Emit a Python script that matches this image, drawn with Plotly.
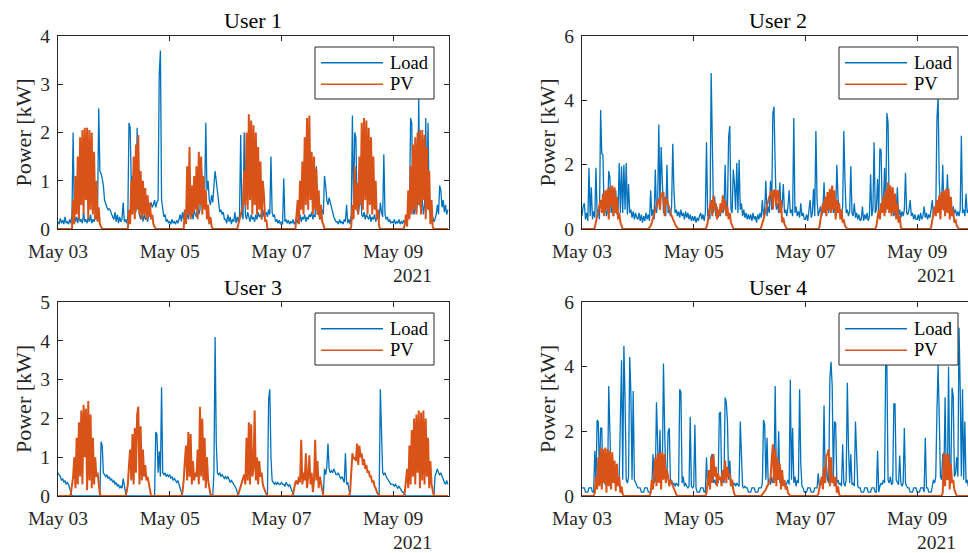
import plotly.graph_objects as go
import pandas as pd

# ---------------- data (30-minute samples, 2021-05-03 00:00 .. 2021-05-09 23:30) ----------------
start_time = "2021-05-03 00:00"
samples_per_day = 48
n_days = 7

load_u1_days = [
    [0.15,0.1,0.22,0.12,0.18,0.1,0.25,0.12,0.15,0.1,0.2,0.12,0.3,2.0,0.3,0.15,0.25,0.12,0.3,0.15,0.2,0.12,0.35,0.15,0.2,0.12,0.25,0.15,0.3,0.12,0.2,0.15,0.28,0.2,0.35,2.5,1.2,1.15,1.05,0.9,0.6,0.5,0.45,0.4,0.42,0.38,0.3,0.25],
    [0.2,0.35,0.15,0.3,0.12,0.25,0.15,0.2,0.55,0.15,0.2,0.12,0.25,2.2,2.1,0.9,1.1,0.5,0.9,0.35,2.1,0.6,0.3,0.2,0.35,0.15,0.3,0.2,0.25,0.15,0.3,0.4,0.55,0.45,0.5,0.6,0.45,0.55,0.6,3.2,3.7,0.6,0.4,0.25,0.3,0.15,0.2,0.12],
    [0.15,0.1,0.2,0.12,0.15,0.1,0.18,0.12,0.2,0.3,0.15,0.35,0.2,0.4,0.25,0.3,0.2,0.45,0.25,0.35,0.2,0.4,0.3,0.25,0.5,0.3,0.4,1.4,0.9,0.5,0.6,2.2,0.8,1.0,0.6,0.5,0.7,0.55,0.9,1.2,1.0,0.8,0.5,0.35,0.4,0.3,0.35,0.2],
    [0.2,0.12,0.3,0.15,0.25,0.1,0.2,0.15,0.35,0.12,0.25,0.15,0.3,1.95,0.3,0.2,2.0,0.3,0.2,0.35,0.25,0.15,0.3,0.2,0.25,0.15,0.3,0.2,0.35,0.25,0.3,0.2,0.4,0.25,0.3,0.35,0.25,0.4,0.3,1.5,0.35,0.25,0.3,0.15,0.2,0.12,0.18,0.1],
    [0.15,0.1,1.05,0.15,0.2,0.12,0.18,0.1,0.15,0.12,0.2,0.1,0.15,0.25,0.12,0.2,0.3,0.15,0.25,0.2,0.3,0.15,0.25,0.2,0.3,0.25,0.35,0.2,0.3,0.25,1.3,0.3,0.35,0.2,0.3,0.4,0.3,1.1,0.9,0.6,0.5,0.65,0.55,0.45,0.3,0.25,0.2,0.15],
    [0.15,0.1,0.2,0.12,0.15,0.1,0.2,0.15,0.5,0.12,0.2,0.1,0.3,2.35,0.4,2.0,1.9,0.4,0.3,0.5,1.0,0.3,0.25,0.35,0.2,0.3,0.25,0.2,0.3,0.15,0.25,0.2,0.3,0.15,0.25,0.3,0.2,0.55,0.35,0.25,1.55,0.3,0.2,0.25,0.15,0.2,0.12,0.15],
    [0.12,0.2,0.1,0.15,0.12,0.2,0.1,0.15,0.12,0.18,0.1,0.15,0.2,0.3,0.25,2.3,2.2,0.4,0.3,0.5,0.35,0.6,2.7,0.5,0.4,0.6,0.3,0.5,2.3,0.6,2.2,0.4,0.3,0.2,0.25,0.15,0.2,0.3,0.5,0.3,0.9,0.8,0.45,0.6,0.35,0.5,0.3,0.4],
]
pv_u1_days = [
    [0,0,0,0,0,0,0,0,0,0,0,0,0,0.6,0.1,1.1,0.3,1.5,0.2,1.9,0.5,2.05,0.3,2.1,0.6,2.1,0.2,2.05,0.4,2.0,0.3,1.6,0.2,1.0,0.15,0.45,0.1,0.05,0,0,0,0,0,0,0,0,0,0],
    [0,0,0,0,0,0,0,0,0,0,0,0,0,0.4,0.1,1.0,0.3,1.5,0.2,1.75,0.4,1.95,0.3,1.2,0.2,1.0,0.3,0.85,0.2,0.7,0.25,0.55,0.2,0.3,0.1,0.05,0,0,0,0,0,0,0,0,0,0,0,0],
    [0,0,0,0,0,0,0,0,0,0,0,0,0,0.4,0.1,1.3,0.3,1.7,0.2,0.9,0.3,1.1,0.4,1.3,0.2,1.6,0.5,1.5,0.3,1.1,0.4,0.8,0.2,0.5,0.1,0.25,0.05,0,0,0,0,0,0,0,0,0,0,0],
    [0,0,0,0,0,0,0,0,0,0,0,0.1,0.2,0.3,0.4,0.5,1.2,0.5,2.0,0.4,2.38,0.6,2.25,0.3,2.15,0.5,2.0,0.3,1.7,0.4,1.4,0.2,1.0,0.7,0.15,0.2,0,0,0,0,0,0,0,0,0,0,0,0],
    [0,0,0,0,0,0,0,0,0,0,0,0,0,0.3,0.6,0.1,1.0,0.4,1.4,0.3,1.9,0.5,2.3,0.4,2.35,0.6,1.6,0.3,1.5,0.4,1.25,0.3,0.8,0.2,0.5,0.15,0.1,0,0,0,0,0,0,0,0,0,0,0],
    [0,0,0,0,0,0,0,0,0,0,0,0,0.05,0.5,0.2,1.3,0.4,0.95,0.3,1.5,0.5,2.2,0.4,2.3,0.6,2.25,0.3,2.1,0.5,1.9,0.3,1.5,0.4,1.0,0.2,0.4,0.05,0,0,0,0,0,0,0,0,0,0,0],
    [0,0,0,0,0,0,0,0,0,0,0.1,0.3,0.05,0.8,0.2,1.3,0.3,1.75,0.4,1.9,0.3,2.0,0.5,2.05,0.3,2.05,0.6,1.95,0.2,1.7,0.4,1.2,0.1,0.6,0.05,0,0,0,0,0,0,0,0,0,0,0,0,0],
]

load_u2_days = [
    [0.4,0.7,0.8,0.3,0.5,0.25,1.9,0.4,1.3,0.3,0.55,0.35,1.9,0.4,0.6,0.3,3.7,2.35,2.3,0.5,0.7,0.4,0.6,1.8,1.6,0.5,0.7,0.4,0.6,1.2,0.45,0.6,2.05,0.5,1.95,0.5,2.0,0.6,2.05,0.45,1.4,0.5,0.6,0.35,0.55,0.3,0.5,0.35],
    [0.3,0.5,0.25,0.45,0.2,0.4,0.25,0.5,0.3,0.45,0.25,1.2,0.4,0.6,0.3,1.85,0.5,0.8,3.25,0.6,2.55,1.4,0.5,0.7,0.4,2.0,0.5,0.6,0.4,0.7,2.65,1.2,0.5,0.6,0.4,0.55,0.35,0.6,0.4,0.5,0.3,0.55,0.35,0.5,0.3,0.45,0.25,0.4],
    [0.25,0.4,0.2,0.35,0.25,0.4,0.5,0.3,0.45,0.25,0.5,2.7,0.4,0.6,0.3,4.85,2.6,0.5,1.0,0.4,0.7,0.35,0.6,0.4,0.8,0.5,0.6,2.0,0.5,0.7,2.85,3.2,0.6,0.5,1.85,1.4,0.6,2.05,0.5,2.15,0.6,0.8,0.4,0.6,0.35,0.5,0.3,0.45],
    [0.3,0.45,0.25,0.5,0.3,0.4,0.2,0.45,0.3,0.5,0.35,0.9,0.4,0.6,1.5,0.4,0.7,0.5,1.5,0.6,3.6,3.8,2.0,0.6,0.8,0.5,1.45,0.6,0.7,1.4,0.5,0.6,0.4,0.7,1.2,0.5,0.6,0.4,3.45,0.5,0.7,0.4,0.55,0.35,0.8,0.4,0.5,0.3],
    [0.3,0.45,0.25,0.6,0.9,0.35,0.5,1.25,0.4,3.05,0.9,0.4,0.55,0.7,0.4,0.6,1.45,0.5,0.6,0.8,0.5,0.9,0.6,1.0,0.5,0.7,0.4,2.0,1.0,0.5,0.6,0.4,0.7,3.05,1.5,0.5,0.6,0.4,0.55,1.95,0.5,0.4,0.8,0.35,0.5,0.3,0.45,0.25],
    [0.3,0.7,0.25,0.45,0.3,0.5,0.25,0.4,1.7,0.4,0.6,2.7,0.5,0.6,1.55,0.5,2.5,2.45,0.6,0.7,1.9,0.5,3.6,3.3,0.6,1.2,0.5,0.7,0.4,0.6,0.5,1.3,0.4,0.6,0.35,0.55,0.4,0.6,1.75,0.5,0.45,0.6,0.9,0.4,0.5,0.3,0.45,0.3],
    [0.3,0.45,0.25,0.5,0.3,0.4,0.7,0.35,0.5,0.3,0.45,0.35,0.6,0.9,0.4,0.6,0.5,3.4,4.1,1.5,0.6,0.8,2.0,0.6,0.5,0.7,1.7,0.8,0.5,0.6,0.4,0.7,0.5,0.6,0.4,0.55,0.4,0.6,2.9,0.5,0.6,0.4,1.1,0.5,0.6,0.4,0.5,0.35],
]
pv_u2_days = [
    [0,0,0,0,0,0,0,0,0,0,0,0.05,0.2,0.4,0.6,0.7,0.9,0.5,1.1,0.4,1.2,0.6,1.25,0.3,1.3,0.7,1.35,0.4,1.3,0.5,1.0,0.3,0.5,0.2,0.1,0,0,0,0,0,0,0,0,0,0,0,0,0],
    [0,0,0,0,0,0,0,0,0,0,0.05,0.1,0.2,0.3,0.45,0.6,0.75,0.85,0.95,0.6,1.1,1.1,1.15,0.4,1.0,0.9,0.8,0.65,0.5,0.4,0.3,0.2,0.15,0.08,0.02,0,0,0,0,0,0,0,0,0,0,0,0,0],
    [0,0,0,0,0,0,0,0,0,0,0,0.05,0.2,0.5,0.7,0.9,0.4,1.05,0.6,0.8,0.3,0.6,0.4,0.8,0.5,1.05,0.6,0.9,0.4,0.7,0.3,0.5,0.2,0.1,0.02,0,0,0,0,0,0,0,0,0,0,0,0,0],
    [0,0,0,0,0,0,0,0,0,0,0.05,0.15,0.3,0.45,0.6,0.75,0.9,1.0,1.1,1.2,0.6,1.2,1.2,0.7,1.2,1.15,0.5,0.9,0.2,0.35,0.15,0.05,0,0,0,0,0,0,0,0,0,0,0,0,0,0,0,0],
    [0,0,0,0,0,0,0,0,0,0,0,0,0.05,0.3,0.6,0.8,0.5,1.0,0.4,1.15,0.6,1.25,0.5,1.35,0.6,1.2,0.3,0.9,0.5,0.8,0.3,0.6,0.2,0.3,0.1,0.05,0,0,0,0,0,0,0,0,0,0,0,0],
    [0,0,0,0,0,0,0,0,0,0,0,0,0,0.1,0.4,0.6,0.3,0.8,0.5,1.0,0.4,1.2,0.6,1.45,0.5,1.35,0.4,1.3,0.5,1.1,0.3,0.8,0.2,0.4,0.05,0,0,0,0,0,0,0,0,0,0,0,0,0],
    [0,0,0,0,0,0,0,0,0,0,0,0,0.05,0.3,0.5,0.7,0.4,0.9,0.5,1.05,0.3,1.15,0.6,1.2,0.4,1.25,0.5,1.25,0.3,1.0,0.4,0.6,0.2,0.3,0.1,0.05,0,0,0,0,0,0,0,0,0,0,0,0],
]

load_u3_days = [
    [0.6,0.55,0.5,0.4,0.45,0.35,0.4,0.3,0.35,0.3,0.2,0.1,0,0,0,0,0,0,0,0,0,0,0,0,0,0,0,0,0,0,0,0,0,0,0,0,0,1.4,1.3,0.6,0.55,0.5,0.55,0.45,0.5,0.4,0.45,0.35],
    [0.4,0.3,0.35,0.25,0.3,0.2,0.25,0.2,0.45,0.2,0.1,0,0,0,0,0,0,0,0,0,0,0,0,0,0,0,0,0,0,0,0,0,0,0,0,0,1.65,1.6,0.6,1.15,0.5,2.8,0.6,0.55,0.6,0.5,0.55,0.5],
    [0.55,0.45,0.5,0.4,0.45,0.4,0.35,0.4,0.3,0.2,0.1,0,0,0,0,0,0,0,0,0,0,0,0,0,0,0,0,0,0,0,0,0,0,0,0,0,0,0,0.6,4.1,1.4,0.6,0.55,0.6,0.5,0.55,0.5,0.45],
    [0.5,0.45,0.5,0.4,0.35,0.4,0.35,0.3,0.25,0.2,0.1,0,0,0,0,0,0,0,0,0,0,0,0,0,0,0,0,0,0,0,0,0,0,0,0,0,0,2.5,2.75,1.0,0.4,0.35,0.3,0.35,0.3,0.35,0.3,0.3],
    [0.35,0.3,0.3,0.25,0.35,0.3,0.25,0.3,0.2,0.15,0.05,0,0,0,0,0,0,0,0,0,0,0,0,0,0,0,0,0,0,0,0,0,0,0,0,0,0,0.7,0.55,0.75,1.35,0.7,0.6,0.65,0.6,0.7,0.6,0.55],
    [0.55,0.6,0.5,0.45,0.5,0.4,0.35,1.1,0.3,0.35,0.2,0,0,0,0,0,0,0,0,0,0,0,0,0,0,0,0,0,0,0,0,0,0,0,0,0,0,2.75,1.4,0.6,0.55,0.6,0.5,0.45,0.4,0.35,0.3,0.3],
    [0.3,0.25,0.3,0.25,0.2,0.25,0.2,0.15,0.1,0.1,0.05,0,0,0,0,0,0,0,0,0,0,0,0,0,0,0,0,0,0,0,0,0,0,0,0,0,0.5,0.6,0.7,0.6,0.55,0.6,0.5,0.45,0.35,0.3,0.4,0.3],
]
pv_u3_days = [
    [0,0,0,0,0,0,0,0,0,0,0,0.05,0.3,0.5,1.0,0.2,1.5,0.3,1.9,0.5,2.2,0.3,2.35,1.0,2.25,0.15,2.45,0.4,2.1,0.2,1.5,0.3,1.0,0.5,0.6,0.25,0.05,0,0,0,0,0,0,0,0,0,0,0],
    [0,0,0,0,0,0,0,0,0,0,0,0.1,0.3,0.8,1.2,0.4,1.6,0.3,1.75,0.6,2.1,2.3,0.3,1.8,0.4,1.2,0.5,0.8,0.4,0.5,0.3,0.1,0,0,0,0,0,0,0,0,0,0,0,0,0,0,0,0],
    [0,0,0,0,0,0,0,0,0,0,0,0.1,0.4,0.9,1.3,0.4,1.65,0.5,1.6,0.3,0.9,0.4,0.6,0.5,1.2,0.3,2.3,0.5,2.0,0.4,1.5,0.2,1.0,0.4,0.2,0.05,0,0,0,0,0,0,0,0,0,0,0,0],
    [0,0,0,0,0,0,0,0,0,0,0,0.05,0.15,0.25,0.35,0.45,0.55,0.3,1.5,0.4,1.9,0.3,1.85,0.5,0.7,2.2,0.4,1.0,0.3,0.9,0.5,0.6,0.3,0.2,0.1,0.05,0,0,0,0,0,0,0,0,0,0,0,0],
    [0,0,0,0,0,0,0,0,0,0,0.05,0.2,0.35,0.4,0.3,0.5,0.35,1.45,0.3,0.6,0.4,1.1,0.2,0.5,1.05,0.3,0.6,0.1,0.4,1.45,0.4,0.9,0.2,0.5,0.3,0.1,0,0,0,0,0,0,0,0,0,0,0,0],
    [0,0,0,0,0,0,0,0,0,0,0,0.1,0.6,1.1,0.95,1.0,0.9,1.35,0.8,1.3,1.0,1.1,0.8,0.95,0.7,0.8,0.6,0.65,0.5,0.5,0.35,0.4,0.25,0.2,0.1,0.05,0,0,0,0,0,0,0,0,0,0,0,0],
    [0,0,0,0,0,0,0,0,0,0,0.1,0.4,0.7,0.2,1.3,0.3,1.7,0.5,2.0,0.3,2.1,0.6,2.2,0.2,2.15,0.4,2.2,0.3,2.0,0.5,1.5,0.2,0.9,0.3,0.1,0,0,0,0,0,0,0,0,0,0,0,0,0],
]

load_u4_days = [
    [0.25,0.25,0.25,0.12,0.12,0.12,0.25,0.25,0.25,0.12,0.12,1.4,0.4,2.35,2.3,0.5,2.1,2.1,0.4,0.5,0.35,0.6,0.4,3.4,2.1,0.5,1.0,0.4,0.5,0.35,0.5,0.4,0.6,3.1,4.2,0.5,4.65,3.0,0.5,0.4,0.6,4.3,3.2,0.5,3.25,0.5,0.4,0.3],
    [0.25,0.25,0.25,0.12,0.12,0.12,0.25,0.25,0.25,0.12,0.12,0.12,0.3,1.3,0.4,0.5,2.9,1.9,0.4,2.05,0.5,0.6,4.1,2.1,0.5,0.6,2.0,2.1,0.4,0.5,0.35,0.4,0.3,0.4,0.35,0.3,3.3,3.2,0.4,0.6,0.3,0.4,0.3,0.25,0.3,2.45,0.3,0.25],
    [0.3,2.2,0.25,0.12,0.12,0.12,0.25,0.25,0.25,0.12,0.12,1.2,0.3,0.4,0.35,1.2,1.3,0.4,0.5,0.35,0.6,0.4,2.55,2.6,0.5,0.6,0.4,3.05,2.9,2.3,0.5,1.1,0.4,0.5,0.35,0.4,0.3,0.4,0.35,0.3,2.3,1.0,0.3,0.25,0.3,0.25,0.25,0.12],
    [0.12,0.12,0.25,0.25,0.25,0.12,0.12,0.12,0.25,0.25,0.25,0.4,2.35,2.2,0.5,1.8,0.4,0.5,0.35,0.6,0.4,0.5,3.4,0.6,0.5,2.0,0.4,0.6,0.35,0.5,0.4,0.3,0.4,0.5,0.35,3.6,0.5,2.1,0.4,0.6,0.3,0.5,0.4,3.3,1.0,0.3,0.25,0.12],
    [0.12,0.12,0.25,0.25,0.25,0.12,0.12,0.12,0.25,0.25,0.25,0.7,0.3,0.4,0.35,0.5,2.8,0.4,1.0,0.5,0.4,3.6,4.15,3.4,0.5,2.3,2.25,0.4,0.5,0.35,0.4,0.3,1.6,0.4,0.3,0.5,3.5,1.5,0.4,1.3,0.35,0.4,0.3,2.3,1.3,0.3,0.25,0.25],
    [0.12,0.12,0.12,0.25,0.25,0.25,0.12,0.12,0.12,0.25,0.25,0.25,0.12,0.12,1.4,0.12,0.3,0.4,0.35,0.5,0.4,4.3,4.0,0.5,0.4,0.6,0.35,0.4,2.85,2.85,0.5,0.4,0.35,1.25,0.4,0.3,0.4,2.1,0.4,0.3,0.25,0.25,0.12,0.12,0.12,0.25,0.25,0.25],
    [0.12,0.12,0.12,0.25,0.25,0.25,0.12,1.8,0.25,0.25,0.12,0.12,0.12,0.3,0.5,0.4,0.6,2.6,4.05,2.45,0.6,0.5,1.3,0.6,3.05,0.6,0.5,4.0,0.6,0.8,3.35,3.1,0.6,0.7,1.2,0.6,5.2,3.3,0.6,3.3,0.5,2.3,0.4,0.5,0.3,0.4,0.3,0.25],
]
pv_u4_days = [
    [0,0,0,0,0,0,0,0,0,0,0,0.1,0.6,0.2,1.2,0.3,1.5,0.2,1.45,0.4,1.5,0.1,1.45,0.3,1.4,0.2,1.35,0.4,1.1,0.15,1.0,0.3,0.6,0.1,0.3,0.05,0,0,0,0,0,0,0,0,0,0,0,0],
    [0,0,0,0,0,0,0,0,0,0,0,0.1,0.5,0.2,0.9,1.2,0.3,1.3,0.4,1.35,0.2,1.35,0.5,1.3,0.4,0.8,0.6,0.3,0.5,0.4,0.3,0.2,0.1,0.05,0,0,0,0,0,0,0,0,0,0,0,0,0,0],
    [0,0,0,0,0,0,0,0,0,0,0,0.1,0.4,0.8,0.2,1.2,0.4,1.3,0.6,0.9,0.3,0.7,0.5,0.6,0.3,0.8,0.5,1.1,0.4,0.9,0.6,0.7,0.3,0.5,0.2,0.05,0,0,0,0,0,0,0,0,0,0,0,0],
    [0,0,0,0,0,0,0,0,0,0,0,0.05,0.1,0.15,0.2,0.3,0.35,0.45,0.55,1.1,1.6,0.4,1.45,0.3,1.2,0.5,1.0,0.2,0.8,0.3,0.5,0.2,0.3,0.1,0.05,0,0,0,0,0,0,0,0,0,0,0,0,0],
    [0,0,0,0,0,0,0,0,0,0,0,0.05,0.2,0.4,0.6,0.2,0.9,0.4,1.25,1.3,1.45,0.3,1.2,0.4,0.6,0.3,0.6,0.1,0.3,0.05,0,0,0,0,0,0,0,0,0,0,0,0,0,0,0,0,0,0],
    [0,0,0,0,0,0,0,0,0,0,0,0,0,0,0,0,0,0,0,0,0,0,0,0,0,0,0,0,0,0,0,0,0,0,0,0,0,0,0,0,0,0,0,0,0,0,0,0],
    [0,0,0,0,0,0,0,0,0,0,0,0,0,0,0,0,0,0,0,0,0,0,0.1,1.35,0.3,1.3,0.5,1.3,0.2,1.0,0.4,0.5,0.2,0.1,0,0,0,0,0,0,0,0,0,0,0,0,0,0],
]

user_titles = ["User 1", "User 2", "User 3", "User 4"]
series_names = ["Load", "PV"]
y_max = [4, 6, 5, 6]
y_tick_step = [1, 2, 1, 2]
x_tick_dates = ["2021-05-03", "2021-05-05", "2021-05-07", "2021-05-09"]
year_label = "2021"
y_label = "Power [kW]"

# ---------------- build ----------------
def flatten(days):
    for d in days:
        assert len(d) == samples_per_day, len(d)
    assert len(days) == n_days
    return [v for d in days for v in d]

times = pd.date_range(start_time, periods=samples_per_day * n_days, freq="30min")

users = [
    (flatten(load_u1_days), flatten(pv_u1_days)),
    (flatten(load_u2_days), flatten(pv_u2_days)),
    (flatten(load_u3_days), flatten(pv_u3_days)),
    (flatten(load_u4_days), flatten(pv_u4_days)),
]

W, H = 968, 553
C_LOAD = "#0072BD"
C_PV = "#D95319"
AX = "#262626"
FONT = "Times New Roman, Liberation Serif, serif"

# panel pixel boxes: (left, right, top, bottom); right column runs past the visible page edge
panels = [(58, 449, 36, 229), (582, 973, 36, 229), (58, 449, 302, 496), (582, 973, 302, 496)]
view_right = 968

fig = go.Figure()
t0 = pd.Timestamp(start_time)

for i, (load, pv) in enumerate(users):
    k = "" if i == 0 else str(i + 1)
    xa, ya = "x" + k, "y" + k
    fig.add_trace(go.Scatter(x=times, y=load, mode="lines", name=series_names[0], showlegend=False,
                             line=dict(color=C_LOAD, width=1.3),
                             xaxis=xa, yaxis=ya))
    fig.add_trace(go.Scatter(x=times, y=pv, mode="lines", name=series_names[1], showlegend=False,
                             line=dict(color=C_PV, width=2.0),
                             xaxis=xa, yaxis=ya))

layout = dict(width=W, height=H, margin=dict(l=0, r=0, t=0, b=0, autoexpand=False),
              paper_bgcolor="white", plot_bgcolor="white", showlegend=False)
annotations = []
shapes = []
for i, (l, r, t, b) in enumerate(panels):
    k = "" if i == 0 else str(i + 1)
    vis_r = min(r, view_right)
    day_px = (r - l) / n_days
    end = t0 + pd.Timedelta(days=(vis_r - l) / day_px)
    right_col = r > view_right
    layout["xaxis" + k] = dict(
        domain=[l / W, vis_r / W], anchor="y" + k, type="date", automargin=False,
        range=[t0, end], tickvals=x_tick_dates, tickformat="%b %d",
        ticks="inside", ticklen=5, tickcolor=AX, showline=True, linecolor=AX, linewidth=1,
        mirror="ticks", showgrid=False, zeroline=False, ticklabelstandoff=5,
        tickfont=dict(family=FONT, size=19.5, color=AX))
    layout["yaxis" + k] = dict(
        domain=[1 - b / H, 1 - t / H], anchor="x" + k, automargin=False,
        range=[0, y_max[i]], dtick=y_tick_step[i], tick0=0,
        ticks="inside", ticklen=5, tickcolor=AX, showline=True, linecolor=AX, linewidth=1,
        mirror=False if right_col else "ticks", showgrid=False, zeroline=False, ticklabelstandoff=3,
        tickfont=dict(family=FONT, size=19.5, color=AX))
    cx = (l + r) / 2
    annotations.append(dict(text=user_titles[i], x=cx / W, y=1 - (t - 15) / H, xref="paper", yref="paper",
                            xanchor="center", yanchor="middle", showarrow=False,
                            font=dict(family=FONT, size=22, color="black")))
    annotations.append(dict(text=y_label, x=(l - 35) / W, y=1 - (t + b) / 2 / H, xref="paper", yref="paper",
                            xanchor="center", yanchor="middle", showarrow=False, textangle=-90,
                            font=dict(family=FONT, size=22, color=AX)))
    annotations.append(dict(text=year_label, x=(l + 354) / W, y=1 - (b + 46) / H, xref="paper", yref="paper",
                            xanchor="center", yanchor="middle", showarrow=False,
                            font=dict(family=FONT, size=19.5, color=AX)))
    # legend key drawn inside the axes, like MATLAB's legend
    shapes.append(dict(type="rect", xref="paper", yref="paper",
                       x0=(l + 257) / W, x1=(l + 376) / W, y0=1 - (t + 63) / H, y1=1 - (t + 11) / H,
                       fillcolor="white", line=dict(color=AX, width=1), layer="above"))
    for j, (name, col) in enumerate(zip(series_names, [C_LOAD, C_PV])):
        yy = 1 - (t + 26.7 + 21.6 * j) / H
        shapes.append(dict(type="line", xref="paper", yref="paper",
                           x0=(l + 263) / W, x1=(l + 325) / W, y0=yy, y1=yy,
                           line=dict(color=col, width=1.6), layer="above"))
        annotations.append(dict(text=name, x=(l + 330) / W, y=yy, xref="paper", yref="paper",
                                xanchor="left", yanchor="middle", showarrow=False,
                                font=dict(family=FONT, size=18.5, color="black")))
layout["annotations"] = annotations
layout["shapes"] = shapes
fig.update_layout(**layout)
fig.write_html("out.html")
